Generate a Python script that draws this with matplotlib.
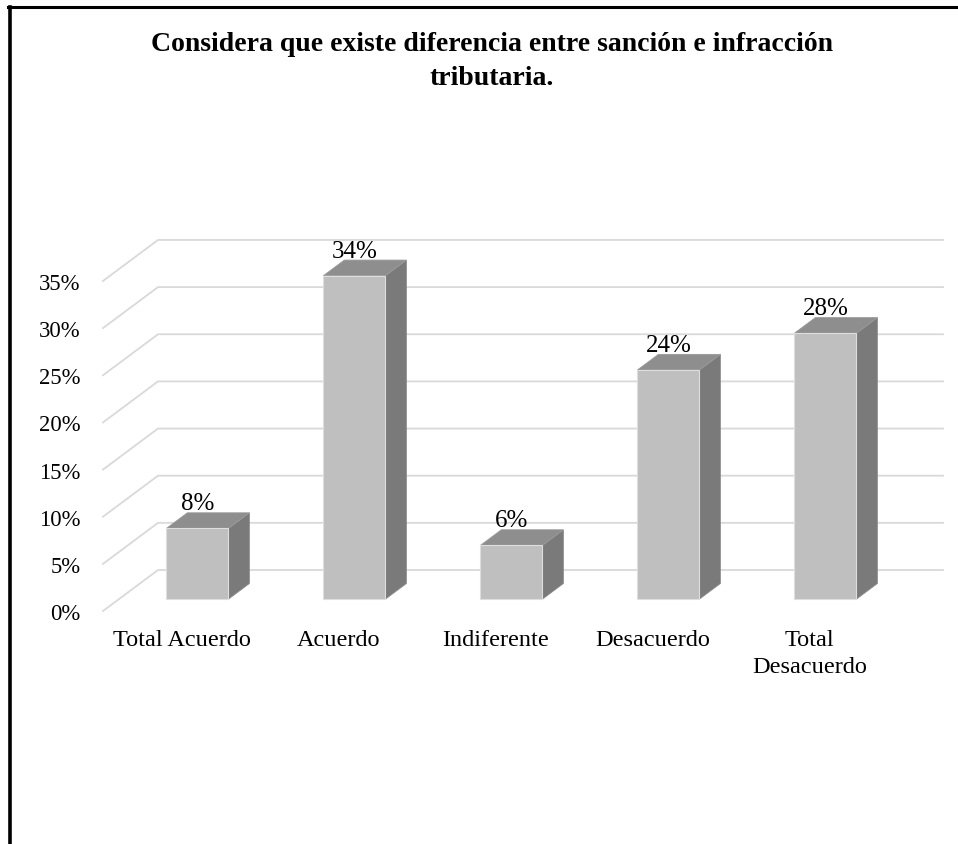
import matplotlib
matplotlib.use("Agg")
import matplotlib.pyplot as plt
from matplotlib.patches import Polygon
from matplotlib.lines import Line2D

# data
categories = ['Total Acuerdo', 'Acuerdo', 'Indiferente', 'Desacuerdo', 'Total\nDesacuerdo']
values = [7.5, 34.3, 5.7, 24.3, 28.2]
y_ticks = [0, 5, 10, 15, 20, 25, 30, 35]
title = 'Considera que existe diferencia entre sanción e infracción\ntributaria.'

W, H = 958, 845
plt.rcParams['font.family'] = ['Liberation Serif', 'DejaVu Serif']

fig = plt.figure(figsize=(W / 100, H / 100), dpi=100)

# front plane of the plot area, in pixels
px_left, px_right, py_zero, py_top = 103, 945, 612, 230
unit_x = 157.0   # px per category
unit_y = 9.43    # px per percent
ax = fig.add_axes([px_left / W, 1 - py_zero / H,
                   (px_right - px_left) / W, (py_zero - py_top) / H])
ax.set_xlim(-0.5, -0.5 + (px_right - px_left) / unit_x)
ax.set_ylim(0, (py_zero - py_top) / unit_y)

# depth of the fake 3D floor, in data units
DX = 55 / unit_x
DY = 41 / unit_y
n = len(categories)

# gridlines: side wall diagonal + back wall horizontal
for t in y_ticks:
    ax.plot([-0.5, -0.5 + DX, n - 0.5 + DX], [t, t + DY, t + DY],
            color='#d9d9d9', lw=1.3, zorder=1, clip_on=False)

# bars
bw = 0.395
d0, d1 = 0.29, 0.67
ddx, ddy = (d1 - d0) * DX, (d1 - d0) * DY
for i, v in enumerate(values):
    x0 = i - bw / 2 + d0 * DX
    y0 = d0 * DY
    front = [(x0, y0), (x0 + bw, y0), (x0 + bw, y0 + v), (x0, y0 + v)]
    top = [(x0, y0 + v), (x0 + bw, y0 + v),
           (x0 + bw + ddx, y0 + v + ddy), (x0 + ddx, y0 + v + ddy)]
    side = [(x0 + bw, y0), (x0 + bw + ddx, y0 + ddy),
            (x0 + bw + ddx, y0 + v + ddy), (x0 + bw, y0 + v)]
    ax.add_patch(Polygon(side, closed=True, facecolor='#7a7a7a',
                         edgecolor='#8a8a8a', lw=0.6, zorder=3, clip_on=False))
    ax.add_patch(Polygon(top, closed=True, facecolor='#8e8e8e',
                         edgecolor='#9a9a9a', lw=0.6, zorder=3, clip_on=False))
    ax.add_patch(Polygon(front, closed=True, facecolor='#bfbfbf',
                         edgecolor='#dedede', lw=0.8, zorder=4, clip_on=False))
    ax.text(x0 + bw / 2, y0 + v + ddy + 1.0, f'{v:.0f}%', ha='center',
            va='center', fontsize=18, color='black', zorder=5)

ax.set_xticks(range(n))
ax.set_xticklabels(categories, fontsize=17.5, linespacing=1.4)
ax.set_yticks(y_ticks)
ax.set_yticklabels([f'{t}%' for t in y_ticks], fontsize=16.3)
ax.tick_params(axis='both', length=0)
ax.tick_params(axis='y', pad=16)
ax.tick_params(axis='x', pad=13)
for s in ax.spines.values():
    s.set_visible(False)
ax.patch.set_alpha(0)

fig.text(492 / W, 1 - 61.5 / H, title, ha='center', va='center',
         fontsize=20, fontweight='bold', linespacing=1.45)

# chart frame (only top and left edges show in the reference)
fig.add_artist(Line2D([9.5 / W, 9.5 / W], [0, 1 - 8 / H], color='black', lw=2.6))
fig.add_artist(Line2D([8 / W, 1], [1 - 8 / H, 1 - 8 / H], color='black', lw=2.2))

fig.savefig('out.png', dpi=100)
